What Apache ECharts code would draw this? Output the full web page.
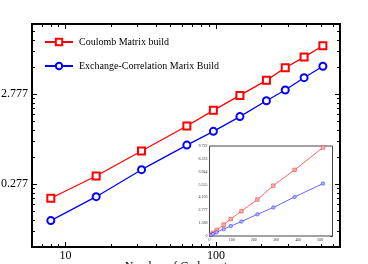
<!DOCTYPE html>
<html>
<head>
<meta charset="utf-8">
<script src="https://cdn.jsdelivr.net/npm/echarts@6/dist/echarts.min.js"></script>
<style>html,body{margin:0;padding:0;background:#fff;}#c{width:368px;height:264px;}</style>
</head>
<body>
<div id="c"></div>
<script>
// ---- data ----
var carbonAtoms = [8, 16, 32, 64, 96, 144, 216, 288, 384, 512];
var coulombBuild = [0.193, 0.341, 0.646, 1.225, 1.83, 2.68, 3.94, 5.44, 7.14, 9.55];
var xcBuild = [0.109, 0.201, 0.401, 0.753, 1.07, 1.56, 2.34, 3.08, 4.22, 5.66];
var seriesNames = ['Coulomb Matrix build', 'Exchange-Correlation Marix Build'];
var xAxisTitle = 'Number of Carbon atoms';

var mainXTicks = [10, 100];
var mainXTickLabels = ['10', '100'];
var mainXMinor = [6, 7, 8, 9, 20, 30, 40, 50, 60, 70, 80, 90, 200, 300, 400, 500, 600];
var mainYTicks = [0.2777, 2.777];
var mainYTickLabels = ['0.277', '2.777'];
var mainYMinorFactors = [2, 3, 4, 5, 6, 7, 8, 9];
var mainYDecades = [0.02777, 0.2777, 2.777];

var insetXTicks = [0, 100, 200, 300, 400, 500];
var insetXTickLabels = ['0', '100', '200', '300', '400', '500'];
var insetYTicks = [0, 1.388, 2.777, 4.166, 5.555, 6.944, 8.333, 9.722];
var insetYTickLabels = ['0', '1.388', '2.777', '4.166', '5.555', '6.944', '8.333', '9.722'];

// ---- helpers ----
var mainYMinor = [];
mainYDecades.forEach(function (d) {
  mainYMinorFactors.forEach(function (k) { mainYMinor.push(d * k); });
});
function labelFrom(vals, labels) {
  return function (v) {
    for (var i = 0; i < vals.length; i++) {
      if (Math.abs(vals[i] - v) <= 1e-6 * Math.max(1, Math.abs(v))) return labels[i];
    }
    return '';
  };
}
function pairs(xs, ys) { return xs.map(function (x, i) { return [x, ys[i]]; }); }

var SERIF = 'Liberation Serif';
var X_MIN = 6, X_MAX = 665, Y_MIN = 0.0555, Y_MAX = 16.66;
var IX_MAX = 555, IY_MAX = 9.722;

function tickAxis(base, ticks, len, showLabel, labelOpt) {
  var o = Object.assign({
    axisLine: { show: false, onZero: false },
    splitLine: { show: false },
    axisTick: { show: true, inside: true, length: len, customValues: ticks, lineStyle: { color: '#000', width: 1 } },
    axisLabel: Object.assign({ show: showLabel, customValues: ticks }, labelOpt || {})
  }, base);
  return o;
}

var mainXLabel = { fontFamily: SERIF, fontSize: 12, color: '#000', margin: 3, formatter: labelFrom(mainXTicks, mainXTickLabels) };
var mainYLabel = { fontFamily: SERIF, fontSize: 12, color: '#000', margin: 4, formatter: labelFrom(mainYTicks, mainYTickLabels) };
var insetXLabel = { fontFamily: SERIF, fontSize: 4, color: '#333', margin: 2, formatter: labelFrom(insetXTicks, insetXTickLabels) };
var insetYLabel = { fontFamily: SERIF, fontSize: 4, color: '#333', margin: 2, formatter: labelFrom(insetYTicks, insetYTickLabels) };

var mx = { type: 'log', logBase: 10, min: X_MIN, max: X_MAX, gridIndex: 0 };
var my = { type: 'log', logBase: 10, min: Y_MIN, max: Y_MAX, gridIndex: 0 };
var ix = { type: 'value', min: 0, max: IX_MAX, gridIndex: 1 };
var iy = { type: 'value', min: 0, max: IY_MAX, gridIndex: 1 };

var xAxes = [
  tickAxis(Object.assign({}, mx, { position: 'bottom', name: xAxisTitle, nameLocation: 'middle', nameGap: 14,
    nameMoveOverlap: false,
    nameTextStyle: { fontFamily: SERIF, fontSize: 12, color: '#000' } }), mainXTicks, 5, true, mainXLabel),
  tickAxis(Object.assign({}, mx, { position: 'bottom' }), mainXMinor, 3, false),
  tickAxis(Object.assign({}, mx, { position: 'top' }), mainXTicks, 5, false),
  tickAxis(Object.assign({}, mx, { position: 'top' }), mainXMinor, 3, false),
  tickAxis(Object.assign({}, ix, { position: 'bottom' }), insetXTicks, 2, true, insetXLabel),
  tickAxis(Object.assign({}, ix, { position: 'top' }), insetXTicks, 2, false)
];
var yAxes = [
  tickAxis(Object.assign({}, my, { position: 'left' }), mainYTicks, 5, true, mainYLabel),
  tickAxis(Object.assign({}, my, { position: 'left' }), mainYMinor, 3, false),
  tickAxis(Object.assign({}, my, { position: 'right' }), mainYTicks, 5, false),
  tickAxis(Object.assign({}, my, { position: 'right' }), mainYMinor, 3, false),
  tickAxis(Object.assign({}, iy, { position: 'left' }), insetYTicks, 2, true, insetYLabel),
  tickAxis(Object.assign({}, iy, { position: 'right' }), insetYTicks, 2, false)
];

var RED = '#ff0000', BLUE = '#0000ff';
var IRED = '#ff4040', IBLUE = '#4040ff';

var option = {
  animation: false,
  backgroundColor: '#fff',
  grid: [
    { left: 32, top: 24, width: 308, height: 223, show: true, borderColor: '#000', borderWidth: 2,
      backgroundColor: 'transparent', containLabel: false, outerBoundsMode: 'none' },
    { left: 209.5, top: 146, width: 123, height: 90, show: true, borderColor: '#444', borderWidth: 1,
      backgroundColor: '#fff', z: 3, containLabel: false, outerBoundsMode: 'none' }
  ],
  legend: {
    data: seriesNames,
    orient: 'vertical',
    left: 44, top: 37, padding: 0,
    itemWidth: 28, itemHeight: 8, itemGap: 14,
    textStyle: { fontFamily: SERIF, fontSize: 10, color: '#000', padding: [0, 0, 0, 1] }
  },
  xAxis: xAxes,
  yAxis: yAxes,
  series: [
    { name: seriesNames[0], type: 'line', xAxisIndex: 0, yAxisIndex: 0, data: pairs(carbonAtoms, coulombBuild),
      symbol: 'emptyRect', symbolSize: 7, lineStyle: { color: RED, width: 1.3 },
      itemStyle: { color: RED, borderColor: RED, borderWidth: 1.2 } },
    { name: seriesNames[1], type: 'line', xAxisIndex: 0, yAxisIndex: 0, data: pairs(carbonAtoms, xcBuild),
      symbol: 'emptyCircle', symbolSize: 7, lineStyle: { color: BLUE, width: 1.3 },
      itemStyle: { color: BLUE, borderColor: BLUE, borderWidth: 1.2 } },
    { name: 'inset-coulomb', type: 'line', xAxisIndex: 4, yAxisIndex: 4, data: pairs(carbonAtoms, coulombBuild),
      symbol: 'rect', symbolSize: 3.5, z: 5, lineStyle: { color: IRED, width: 0.8 },
      itemStyle: { color: '#ffb0b0', borderColor: IRED, borderWidth: 0.6 } },
    { name: 'inset-xc', type: 'line', xAxisIndex: 4, yAxisIndex: 4, data: pairs(carbonAtoms, xcBuild),
      symbol: 'circle', symbolSize: 3.5, z: 5, lineStyle: { color: IBLUE, width: 0.8 },
      itemStyle: { color: '#b0b0ff', borderColor: IBLUE, borderWidth: 0.6 } }
  ]
};
var chart = echarts.init(document.getElementById('c'), null, { renderer: 'canvas' });
chart.setOption(option);
</script>
</body>
</html>
